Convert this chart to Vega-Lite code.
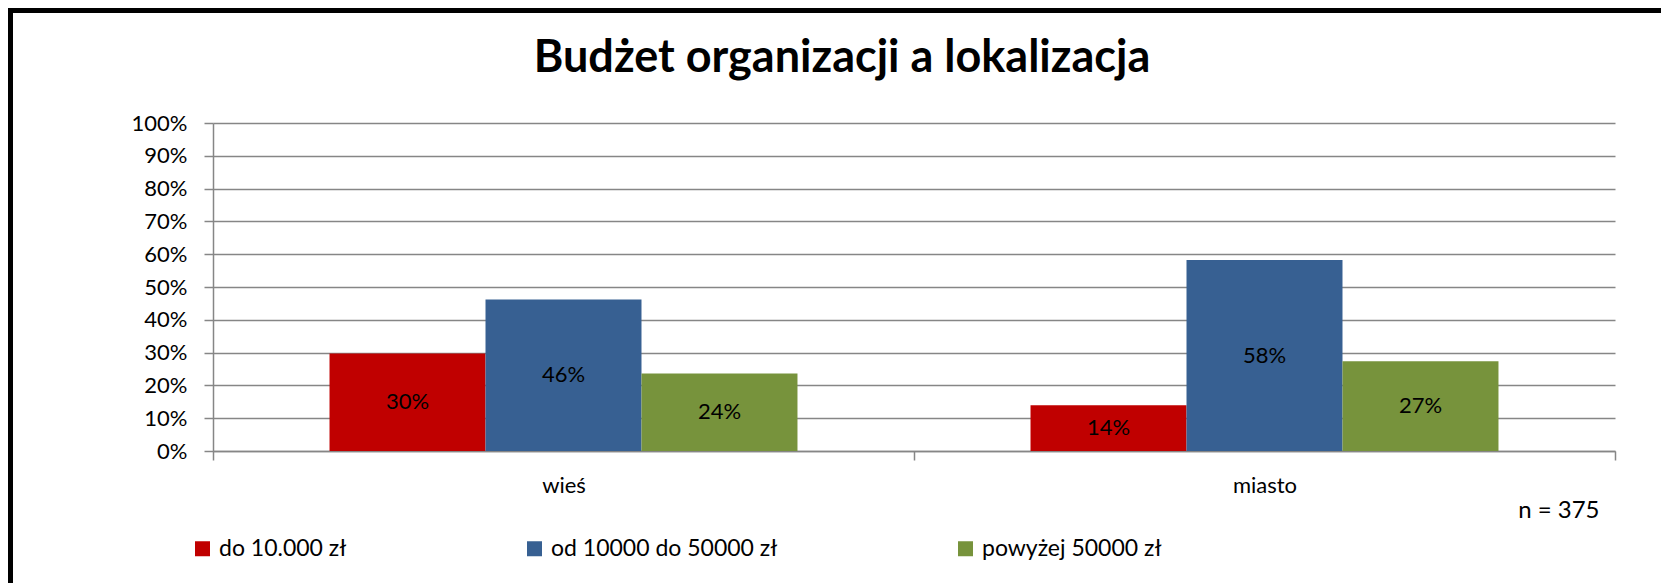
{
  "$schema": "https://vega.github.io/schema/vega-lite/v6.json",
  "autosize": {"type": "none"},
  "width": 1402,
  "height": 328,
  "padding": {"left": 213, "top": 123, "right": 46, "bottom": 132},
  "background": "white",
  "title": {
    "text": "Budżet organizacji a lokalizacja",
    "font": "Lato",
    "fontSize": 45,
    "fontWeight": "bold",
    "color": "black",
    "anchor": "middle",
    "frame": "group",
    "dx": -72,
    "baseline": "alphabetic",
    "offset": -108.5
  },
  "data": {
    "values": [
      {"lokalizacja": "wieś", "budzet": "do 10.000 zł", "value": 0.2975},
      {"lokalizacja": "wieś", "budzet": "od 10000 do 50000 zł", "value": 0.462},
      {"lokalizacja": "wieś", "budzet": "powyżej 50000 zł", "value": 0.236},
      {"lokalizacja": "miasto", "budzet": "do 10.000 zł", "value": 0.1396},
      {"lokalizacja": "miasto", "budzet": "od 10000 do 50000 zł", "value": 0.582},
      {"lokalizacja": "miasto", "budzet": "powyżej 50000 zł", "value": 0.274}
    ]
  },
  "encoding": {
    "x": {
      "field": "lokalizacja",
      "type": "nominal",
      "sort": ["wieś", "miasto"],
      "scale": {"paddingInner": 0, "paddingOuter": 0},
      "axis": {
        "title": "n = 375",
        "titleFont": "Lato",
        "titleFontSize": 24,
        "titleFontWeight": "normal",
        "titleColor": "black",
        "titleAlign": "right",
        "titleBaseline": "alphabetic",
        "titleX": 1386,
        "titleY": 66,
        "labelAngle": 0,
        "labelFont": "Lato",
        "labelFontSize": 22,
        "labelColor": "black",
        "labelBaseline": "alphabetic",
        "labelPadding": 32,
        "tickBand": "extent",
        "tickSize": 9,
        "tickColor": "#868686",
        "tickWidth": 1.5,
        "domainColor": "#868686",
        "domainWidth": 1.5
      }
    },
    "xOffset": {
      "field": "budzet",
      "type": "nominal",
      "sort": ["do 10.000 zł", "od 10000 do 50000 zł", "powyżej 50000 zł"],
      "scale": {"paddingInner": 0, "paddingOuter": 0.747}
    }
  },
  "layer": [
    {
      "mark": {"type": "bar"},
      "encoding": {
        "y": {
          "field": "value",
          "type": "quantitative",
          "scale": {"domain": [0, 1], "nice": false, "zero": true},
          "axis": {
            "title": null,
            "values": [0, 0.1, 0.2, 0.3, 0.4, 0.5, 0.6, 0.7, 0.8, 0.9, 1],
            "format": ".0%",
            "labelFont": "Lato",
            "labelFontSize": 22,
            "labelColor": "black",
            "labelPadding": 17,
            "tickSize": 9,
            "tickColor": "#868686",
            "tickWidth": 1.5,
            "domainColor": "#868686",
            "domainWidth": 1.5,
            "grid": true,
            "gridColor": "#868686",
            "gridWidth": 1.5
          }
        },
        "color": {
          "field": "budzet",
          "type": "nominal",
          "sort": ["do 10.000 zł", "od 10000 do 50000 zł", "powyżej 50000 zł"],
          "scale": {
            "domain": ["do 10.000 zł", "od 10000 do 50000 zł", "powyżej 50000 zł"],
            "range": ["#C00000", "#376092", "#77933C"]
          },
          "legend": {
            "title": null,
            "orient": "none",
            "legendX": -22,
            "legendY": 414,
            "direction": "horizontal",
            "columnPadding": 176,
            "symbolType": "square",
            "symbolSize": 225,
            "symbolStrokeWidth": 0,
            "symbolOpacity": 1,
            "labelFont": "Lato",
            "labelFontSize": 23,
            "labelColor": "black",
            "labelLimit": 500,
            "labelOffset": 5,
            "padding": 0
          }
        },
        "opacity": {
          "field": "lokalizacja",
          "type": "nominal",
          "scale": {"range": [1, 1]},
          "legend": {
            "title": null,
            "orient": "none",
            "legendX": -202.5,
            "legendY": -112.5,
            "padding": 1000,
            "strokeColor": "black",
            "cornerRadius": 0,
            "symbolOpacity": 0,
            "symbolSize": 1,
            "labelExpr": "''",
            "labelOpacity": 0,
            "labelFontSize": 1
          }
        }
      }
    },
    {
      "mark": {"type": "text", "font": "Lato", "fontSize": 22, "color": "black", "baseline": "middle"},
      "encoding": {
        "y": {
          "field": "value",
          "type": "quantitative",
          "scale": {"domain": [0, 2], "nice": false, "zero": true},
          "axis": null
        },
        "text": {"field": "value", "type": "quantitative", "format": ".0%"}
      }
    }
  ],
  "resolve": {"scale": {"y": "independent"}},
  "config": {
    "view": {"stroke": null},
    "legend": {"strokeWidth": 5}
  }
}
